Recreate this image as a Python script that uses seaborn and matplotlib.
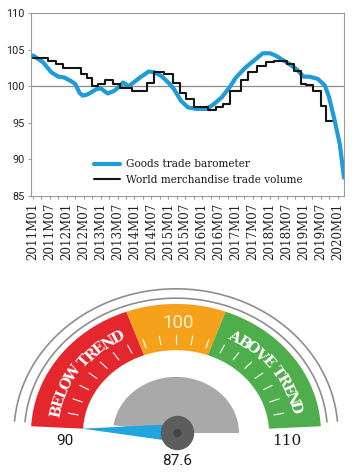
import numpy as np
import matplotlib
matplotlib.use("Agg")
import matplotlib.pyplot as plt
from matplotlib.patches import Polygon, Ellipse
import seaborn as sns

# Goods trade barometer (months since 2011M01)
baro_month = [0, 3.5, 6.5, 9, 11, 13.5, 15, 16.5, 17.7, 19.5, 22.5, 24, 26.5, 29, 32, 34,
              38, 41, 43, 45.5, 48, 50, 52.5, 55, 58, 61.5, 64, 67, 70, 72, 75.5, 79,
              81.5, 84, 86, 88.5, 91, 93.5, 96, 98, 101, 103.5, 105, 107, 108.8, 110.3]
baro_value = [104.2, 103.3, 101.9, 101.3, 101.2, 100.7, 100.3, 99.1, 98.7, 98.9, 99.6, 99.7,
              99.0, 99.4, 100.5, 100.0, 101.2, 102.0, 101.9, 101.4, 100.5, 99.6, 98.0, 97.1,
              96.9, 96.9, 97.5, 98.5, 100.0, 101.2, 102.6, 103.7, 104.5, 104.5, 104.2, 103.6,
              103.0, 102.3, 101.3, 101.3, 101.0, 100.1, 98.5, 95.3, 92.1, 87.5]

# World merchandise trade volume (step series)
vol_month = [0, 5.3, 8, 10.6, 17, 19, 21, 23, 25.4, 28.4, 31, 35, 40.5, 43, 46.5, 49.5, 52,
             54.4, 57, 62, 65, 67.4, 70, 73.6, 76.3, 79.5, 82.6, 85.4, 90, 92.5, 95, 97,
             99.4, 102, 104, 106]
vol_value = [103.8, 103.5, 103.0, 102.5, 101.6, 101.1, 100.0, 100.3, 100.9, 100.3, 99.8,
             99.4, 100.4, 101.9, 101.6, 100.4, 99.1, 98.2, 97.1, 96.7, 97.1, 97.6, 99.4,
             100.8, 102.0, 102.8, 103.3, 103.5, 103.0, 102.1, 100.3, 100.1, 99.4, 97.3,
             95.3, 95.3]

tick_months = list(range(0, 109, 6))
tick_labels = [f"{2011 + m // 12}M{m % 12 + 1:02d}" for m in tick_months]
y_ticks = [85, 90, 95, 100, 105, 110]

# gauge
gauge_min, gauge_max = 90, 110
zone_edges = [90, 97.7, 102.3, 110]
zone_colors = ["#E4262D", "#F6A11C", "#4DAE4B"]
gauge_ticks = list(range(91, 110))
barometer_now = 87.6

BLUE = "#1E9CD7"
GREY = "#9a9a9a"

sns.set_theme(style="white")
plt.rcParams["font.family"] = ["DejaVu Sans"]

fig = plt.figure(figsize=(3.61, 4.73), dpi=100)
ax = fig.add_axes([31 / 361, 1 - 196 / 473, 313 / 361, 183 / 473])

sns.lineplot(x=baro_month, y=baro_value, ax=ax, color=BLUE, lw=3.0,
             label="Goods trade barometer", zorder=3)
sns.lineplot(x=vol_month, y=vol_value, ax=ax, color="#151515", lw=1.5,
             drawstyle="steps-post", label="World merchandise trade volume", zorder=4)
ax.axhline(100, color="#8c8c8c", lw=0.9, zorder=1)

ax.set_xlim(-0.7, 110.3)
ax.set_ylim(85, 110)
ax.set_yticks(y_ticks)
ax.set_yticklabels([str(v) for v in y_ticks], fontsize=7.8, color="#222222",
                   family="Roboto")
ax.set_xticks(tick_months)
ax.set_xticks(range(3, 110, 6), minor=True)
ax.set_xticklabels(tick_labels, rotation=90, fontsize=8.6, family="DejaVu Serif",
                   color="#222222")
ax.tick_params(axis="both", which="both", length=2.5, width=0.7, color=GREY,
               direction="out", pad=2, bottom=True, left=True)
ax.set_xlabel("")
ax.set_ylabel("")
for s in ax.spines.values():
    s.set_color(GREY)
    s.set_linewidth(0.8)

leg = ax.legend(loc="center left", bbox_to_anchor=(0.2, 0.13), frameon=False,
                prop={"family": "DejaVu Serif", "size": 7.6}, handlelength=2.5,
                handletextpad=0.6, labelspacing=0.55, borderpad=0, borderaxespad=0)
for t in leg.get_texts():
    t.set_color("#1a1a1a")

# ---- gauge ----
g = fig.add_axes([0, 0, 1, 208 / 473])
g.set_xlim(0, 361)
g.set_ylim(0, 208)
g.axis("off")

cx, cy, k = 176, 40, 0.89


def ang(v):
    return np.radians(177 - (v - gauge_min) * 174 / (gauge_max - gauge_min))


def pt(r, a):
    return cx + r * np.cos(a), cy + k * r * np.sin(a)


def band(r0, r1, a0, a1, **kw):
    t = np.linspace(a0, a1, 80)
    xo, yo = pt(r1, t)
    xi, yi = pt(r0, t[::-1])
    g.add_patch(Polygon(np.column_stack([np.r_[xo, xi], np.r_[yo, yi]]), closed=True, **kw))


# outer grey arcs
for r in (151.5, 162):
    t = np.linspace(np.radians(4.5), np.radians(175.5), 200)
    x, y = pt(r, t)
    g.plot(x, y, color="#8e8e8e", lw=1.2, solid_capstyle="butt")

# coloured zones
for lo, hi, c in zip(zone_edges[:-1], zone_edges[1:], zone_colors):
    band(93, 145, ang(lo), ang(hi), color=c, lw=0)

# white ticks
for v in gauge_ticks:
    x0, y0 = pt(100, ang(v))
    x1, y1 = pt(110, ang(v))
    g.plot([x0, x1], [y0, y1], color="white", lw=0.8)


# curved labels
def arc_text(txt, a_start, a_end, r):
    w = np.array([0.45 if ch == " " else (1.35 if ch == "W" else 1.0) for ch in txt])
    pos = (np.cumsum(w) - w / 2) / w.sum()
    for ch, p in zip(txt, pos):
        a = np.radians(a_start + (a_end - a_start) * p)
        x, y = pt(r, a)
        g.text(x, y, ch, rotation=np.degrees(a) - 90, ha="center", va="center",
               color="white", family="DejaVu Serif", fontweight="bold", fontsize=10.5,
               rotation_mode="anchor")


arc_text("BELOW TREND", 171, 116, 122)
arc_text("ABOVE TREND", 64, 11, 122)

g.text(cx + 2, 150, "100", ha="center", va="center", color="#FDF1CF", fontsize=13.5,
       family="Roboto")

# grey fan
band(0, 63, np.radians(0), np.radians(172), color="#A9A9A9", lw=0)

# needle
a = ang(max(barometer_now, gauge_min))
tip = pt(94, a)
perp = a + np.pi / 2
b1 = (cx + 1.5 + 9 * np.cos(perp), cy + 9 * np.sin(perp))
b2 = (cx + 1.5 - 9 * np.cos(perp), cy - 9 * np.sin(perp))
g.add_patch(Polygon([tip, b1, b2], closed=True, color="#1FA6E0", lw=0, zorder=5))

g.add_patch(Ellipse((cx + 1.5, cy), 32, 33, color="#5d5d5d", zorder=6))
g.add_patch(Ellipse((cx + 1.5, cy), 7, 7, color="#454545", zorder=7))

# value labels
for v, fam in ((gauge_min, "Roboto"), (gauge_max, "DejaVu Serif")):
    x, _ = pt(111, ang(v))
    g.text(x, 32, str(v), ha="center", va="center", fontsize=11, color="#1a1a1a",
           family=fam)
g.text(cx + 1.5, 12, f"{barometer_now}", ha="center", va="center", fontsize=11,
       color="#1a1a1a", family="Roboto")

fig.savefig("out.png", dpi=100)
